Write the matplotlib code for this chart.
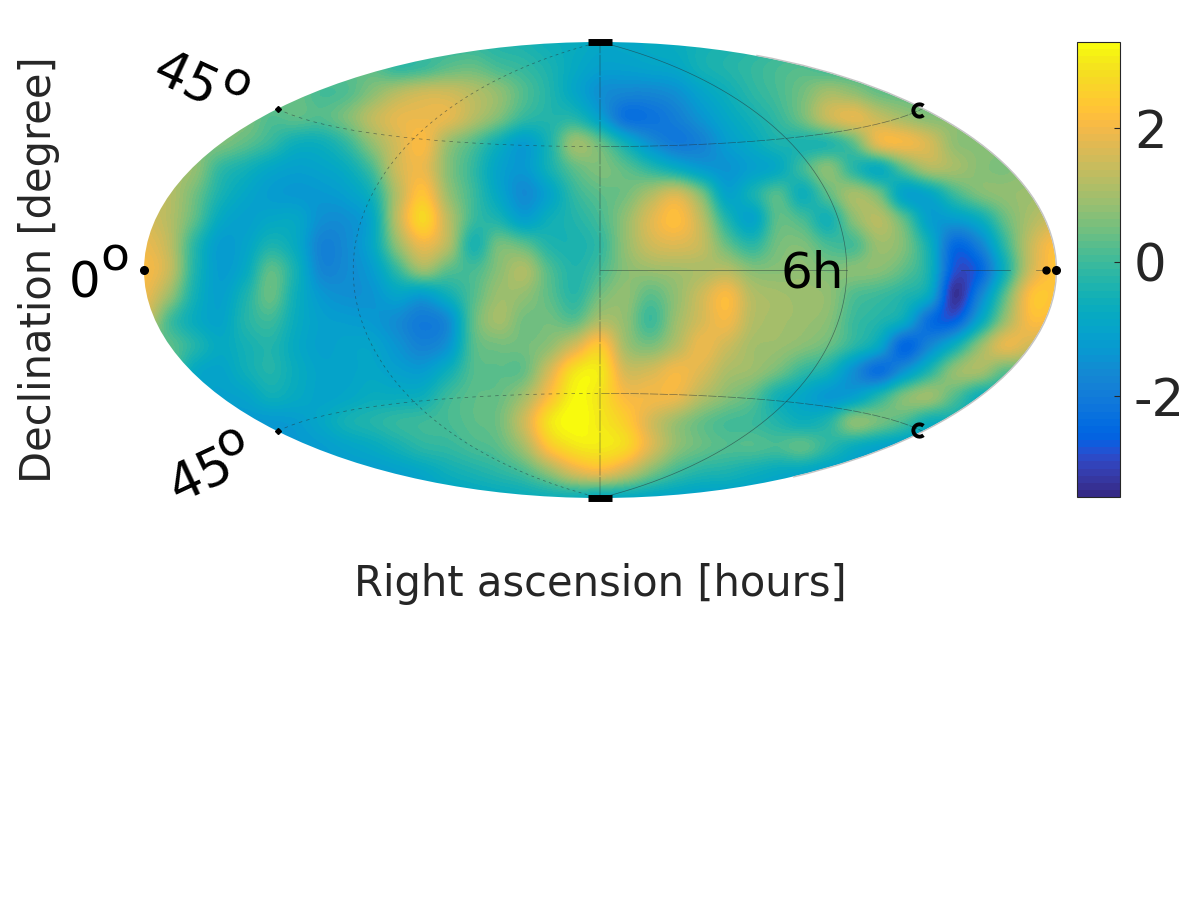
import matplotlib
matplotlib.use('Agg')
import matplotlib.pyplot as plt
import numpy as np
from matplotlib.colors import ListedColormap, Normalize
from matplotlib.cm import ScalarMappable
from matplotlib.patches import Ellipse, Arc
from matplotlib.path import Path

plt.rcParams['axes.unicode_minus'] = False

# map values, one list per row of the projected map (top to bottom)
row_01 = [.2] * 12 + [0, -.1, -.3, -.4, -.6, -.7, -.9, -.9, -.8, -.7, -.5, -.4, -.3, -.2] + [-.1] * 11
row_02 = [.3] * 10 + [-.1, 0, .3, .4, .1, -.1, -.4, -.8, -1.1, -1.1, -1, -.9, -.5, -.3, -.1, .1, .2] + [0] * 10
row_03 = [.4] * 7 + [.1, .2, .7, 1.2, 1.5, 1.5, 1.2, .8, .2, -.3, -.9, -1.5, -1.7, -1.7, -1.5, -1, -.6, -.2, .1, .5, 1, .8, .4] + [.3] * 7
row_04 = [.6] * 5 + [.2, .3, .2, .6, 1.3, 1.8, 1.9, 1.8, 1.2, .6, -.1, -.3, -.3, -1.1, -2.2, -2.2, -1.9, -1.4, -.9, -.5, -.1, .5, 1.4, 1.8, 1.4, 1, .7, .7] + [.7] * 4
row_05 = [.6, .6, .6, .6, .3, -.1, -.6, -.6, -.1, .8, 1.6, 2.1, .9, .2, -.6, -1.2, -.4, .9,
          .4, -.6, -1.5, -2, -1.8, -1.2, -.8, -.4, -.4, -.3, .3, 1.8, 2, 1.6, .8, .7, .7, .7, .7]
row_06 = [1, 1, .8, -.1, -.5, -.9, -1.1, -1, -.7, .1, 1.5, 1.9, .7, -.1, -1, -1.3, -.5, .3,
          .6, .3, -.2, -.7, -1.2, -1.4, -1.1, -.8, 0, .7, -.2, -.7, .3, 1.1, 1, .7, .6, .8, .8]
row_07 = [1.4, 1.2, .5, -.4, -.9, -1.2, -1.3, -1.3, -1.1, -.5, 1.2, 2.3, .9, 0, -.9, -1.6, -1, -.1,
          .3, .5, 1.1, 1.6, .6, -1, -.5, .2, -.6, .3, 1, .5, -1, -.9, 0, .6, .8, .9, 1]
row_08 = [1.6, 1.2, .3, -.8, -1.1, -.9, -.9, -1.5, -1.5, -.9, 1.3, 2.7, 1.3, 0, -.4, -1.1, -.6, -.3,
          .1, .8, 1.7, 2.2, 1.3, -.3, -1, .3, .1, -.5, .7, 1.2, .3, -1.1, -1.2, -.7, .4, 1.1, 1.5]
row_09 = [1.9, 1.3, -.2, -1.2, -1, -.4, -.8, -1.8, -1.6, -.9, .8, 1.9, 1.2, -.4, .5, .3, -.3, -.4,
          -.1, .8, 1.5, 1.7, 1.4, .4, -.2, .5, .6, .1, .1, .9, .6, -.6, -2.4, -1.8, -.1, 1.4, 2.2]
row_10 = [2.1, 1.4, -.3, -1.2, -.8, .3, -.5, -1.7, -1.6, -1.2, -.1, .9, .3, .1, .7, 1.1, .2, -.3,
          .1, .7, .9, 1, 1.1, 1.2, .7, .7, .8, .6, .7, .7, .3, -.5, -2.8, -2.5, -.5, 1.5, 2.3]
row_11 = [1.9, .9, -.5, -1.1, -.4, .4, -.6, -1.3, -1.5, -1.4, -1, -1.2, -.6, .2, .9, .8, .3, -.2,
          .5, .8, .3, .8, 1.5, 2.1, 1.2, 1, .9, .8, .2, 0, -.3, -.9, -3.3, -1.8, .3, 2.2, 2.3]
row_12 = [1.5, .1, -.7, -1, -.3, 0, -.7, -1.1, -1.2, -1.3, -1.6, -2, -1.6, .3, 1, .5, .5, .3,
          1.1, .8, 0, .9, 1.6, 2, 1.2, 1, .9, .7, 0, -.3, -.8, -2.3, -2.6, -.9, .9, 2.1, 2]
row_13 = [.3, .3, -.3, -.8, -.5, -.3, -.8, -1.1, -1, -1, -1.4, -1.8, -1.4, .2, .5, .5, .8, 1.6,
          2.4, 1, .6, 1.2, 1.9, 1.5, 1, .9, .7, .4, -.2, -.9, -2.5, -1.7, -.6, .8, 1.8, 1.5, 1]
row_14 = [.2, .2, -.8, -1, -.6, -.3, -.7, -1, -1, -.9, -1.1, -1.2, -.6, .2, .3, .4, 1.6, 2.9,
          3, 1.6, 1.6, 2, 1.7, 1.1, .9, .5, -.1, -.5, -1.5, -2.3, -1.4, -.3, .8, 1, .3, .3, .3]
row_15 = [-1, -1, -1, -1.1, -1, -.6, -.8, -1, -.9, -.7, -.7, -.6, 0, .3, .4, 1, 2.2, 3.2,
          2.9, 2.1, 2, 1.9, 1.2, .7, .3, -.5, -.9, -1.3, -1.1, -.3, .6, .9, .2, -.6, -.6, -.6, -.6]
row_16 = [-1.3] * 6 + [-1.2, -.9, -.5, -.3, -.1, 0, .1, .3, .5, 1.5, 2.9, 3.3,
                       3, 2.5, 1.6, .9, .4, .1, 0, -.3, -.6, -.3, .7, .5, .1, -.6] + [-.6] * 5
row_17 = [-1.3] * 7 + [-1.2, -1, -.8, -.5, -.2, -.1, .1, .3, 1, 2.3, 2.9,
                       3, 2.7, 1.7, .8, .4, .2, .2, .1, .3, -.2, -.7, -1, -1.2] + [-1.2] * 6
row_18 = [-1.2] * 10 + [-1.1, -.9, -.6, -.4, -.2, .1, .8, 1.6,
                        1.9, 1.4, .6, 0, -.3, -.4, -.6, -.8, -.9, -1.1] + [-1.1] * 9
row_19 = [-1.1] * 12 + [-1, -.9, -.8, -.7, -.6, -.6, -.8, -.8, -.9, -1] + [-1.1] * 15
sky = np.array([row_01, row_02, row_03, row_04, row_05, row_06, row_07, row_08, row_09, row_10,
                row_11, row_12, row_13, row_14, row_15, row_16, row_17, row_18, row_19])

vmin, vmax = -3.5, 3.29
cbar_ticks = [-2, 0, 2]

# MATLAB parula, 64 levels
parula = ListedColormap([
    (0.2081, 0.1663, 0.5292), (0.2116, 0.1898, 0.5777), (0.2123, 0.2138, 0.6270), (0.2081, 0.2386, 0.6771),
    (0.1959, 0.2645, 0.7279), (0.1707, 0.2919, 0.7792), (0.1253, 0.3242, 0.8303), (0.0591, 0.3598, 0.8683),
    (0.0117, 0.3875, 0.8820), (0.0060, 0.4086, 0.8828), (0.0165, 0.4266, 0.8786), (0.0329, 0.4430, 0.8720),
    (0.0498, 0.4586, 0.8641), (0.0629, 0.4737, 0.8554), (0.0723, 0.4887, 0.8467), (0.0779, 0.5040, 0.8384),
    (0.0793, 0.5200, 0.8312), (0.0749, 0.5375, 0.8263), (0.0641, 0.5570, 0.8240), (0.0488, 0.5772, 0.8228),
    (0.0343, 0.5966, 0.8199), (0.0265, 0.6137, 0.8135), (0.0239, 0.6287, 0.8038), (0.0231, 0.6418, 0.7913),
    (0.0228, 0.6535, 0.7768), (0.0267, 0.6642, 0.7607), (0.0384, 0.6743, 0.7436), (0.0590, 0.6838, 0.7254),
    (0.0843, 0.6928, 0.7062), (0.1133, 0.7015, 0.6859), (0.1453, 0.7098, 0.6646), (0.1801, 0.7177, 0.6424),
    (0.2178, 0.7250, 0.6193), (0.2586, 0.7317, 0.5954), (0.3022, 0.7376, 0.5712), (0.3482, 0.7424, 0.5473),
    (0.3953, 0.7459, 0.5244), (0.4420, 0.7481, 0.5033), (0.4871, 0.7491, 0.4840), (0.5300, 0.7491, 0.4661),
    (0.5709, 0.7485, 0.4494), (0.6099, 0.7473, 0.4337), (0.6473, 0.7456, 0.4188), (0.6834, 0.7435, 0.4044),
    (0.7184, 0.7411, 0.3905), (0.7525, 0.7384, 0.3768), (0.7858, 0.7356, 0.3633), (0.8185, 0.7327, 0.3498),
    (0.8507, 0.7299, 0.3360), (0.8824, 0.7274, 0.3217), (0.9139, 0.7258, 0.3063), (0.9450, 0.7261, 0.2886),
    (0.9739, 0.7314, 0.2666), (0.9938, 0.7455, 0.2403), (0.9990, 0.7653, 0.2164), (0.9955, 0.7861, 0.1967),
    (0.9880, 0.8066, 0.1794), (0.9789, 0.8271, 0.1633), (0.9697, 0.8481, 0.1475), (0.9626, 0.8705, 0.1309),
    (0.9589, 0.8949, 0.1132), (0.9598, 0.9218, 0.0948), (0.9661, 0.9514, 0.0755), (0.9763, 0.9831, 0.0538),
])

W, H = 1200.0, 900.0


def box(x0, y0, x1, y1):
    # pixel box (y down) to figure fractions
    return [x0 / W, 1 - y1 / H, (x1 - x0) / W, (y1 - y0) / H]


def px(x, y):
    return x / W, 1 - y / H


fig = plt.figure(figsize=(12, 9), dpi=100)
norm = Normalize(vmin, vmax)

# map, projected coordinates -1..1 in both directions
ax = fig.add_axes(box(144, 42, 1056, 498))
dx, dy = 1 / 36, 1 / 18
# catrom goes through the grid values, agg's bicubic blurs them
im = ax.imshow(sky, cmap=parula, norm=norm, interpolation='catrom', aspect='auto',
               extent=(-1 - dx, 1 + dx, -1 - dy, 1 + dy), origin='upper')
ax.set_xlim(-1, 1)
ax.set_ylim(-1, 1)
clip = Ellipse((0, 0), 2, 2, transform=ax.transData, facecolor='none', edgecolor='none')
ax.add_patch(clip)
im.set_clip_path(clip)
ax.add_patch(Arc((0, 0), 2.002, 2.004, theta1=-65, theta2=70, color='#c4c4c4', lw=1, clip_on=False))
ax.axis('off')

# graticule on a Hammer projection sitting exactly over the map
geo = fig.add_axes(box(144, 42, 1056, 498), projection='hammer')
geo.patch.set_alpha(0)
geo.grid(False)
geo.axis('off')
line_kw = dict(color='#26343a', lw=0.5, alpha=0.6, clip_on=False)
lat = np.radians(np.linspace(-89.9, 89.9, 200))
lon = np.radians(np.linspace(-179.9, 179.9, 300))
geo.plot(np.zeros_like(lat), lat, ls=(0, (30, 2)), **line_kw)
geo.plot(np.full_like(lat, np.pi / 2), lat, **line_kw)
geo.plot(np.full_like(lat, -np.pi / 2), lat, ls=(0, (4, 5)), **line_kw)
for lo, hi in [(0, 90), (136, 158), (170, 175)]:
    geo.plot(np.radians([lo, hi]), [0, 0], **line_kw)
for d in (45, -45):
    geo.plot(lon[lon >= 0], np.full_like(lon[lon >= 0], np.radians(d)), ls=(0, (12, 2)), **line_kw)
    geo.plot(lon[lon < 0], np.full_like(lon[lon < 0], np.radians(d)), ls=(0, (5, 6)), **line_kw)

# black tick blobs where the graticule meets the edge
hook = Path.arc(50, 310)
geo.plot([0, 0], np.radians([89.9, -89.9]), ls='', marker='_', ms=17, mew=5, color='k', clip_on=False)
geo.plot([-np.pi + 0.001], [0], ls='', marker='o', ms=5.5, color='k', clip_on=False)
geo.plot([np.radians(175)], [0], ls='', marker='o', ms=5, color='k', clip_on=False)
geo.plot([np.pi - 0.001], [0], ls='', marker='o', ms=5.5, color='k', clip_on=False)
geo.plot([-np.pi + 0.001] * 2, np.radians([45, -45]), ls='', marker='D', ms=3, color='k', clip_on=False)
geo.plot([np.radians(177)] * 2, np.radians([45, -45]), ls='', marker=hook, ms=9, mew=2.8,
         mfc='none', color='k', clip_on=False)

# colorbar
cax = fig.add_axes(box(1077, 41.5, 1120, 497))
cb = fig.colorbar(ScalarMappable(norm=norm, cmap=parula), cax=cax, ticks=cbar_ticks)
cb.ax.tick_params(direction='in', length=4, width=0.8, color='#262626', labelcolor='#262626',
                  labelsize=37, pad=10)
cb.outline.set_edgecolor('#262626')
cb.outline.set_linewidth(0.8)

# texts
grey = '#262626'
fig.text(*px(600, 584), 'Right ascension [hours]', fontsize=30, color=grey, ha='center', va='center')
fig.text(*px(39, 270), 'Declination [degree]', fontsize=30, color=grey, rotation=90, ha='center', va='center')
fig.text(*px(812, 273), '6h', fontsize=36, color='k', ha='center', va='center')
fig.text(*px(85, 283), '0', fontsize=36, color='k', ha='center', va='center')
fig.text(*px(115, 258), 'o', fontsize=34, color='k', ha='center', va='center')
fig.text(*px(185, 81), '45', fontsize=37, color='k', rotation=-25, ha='center', va='center')
fig.text(*px(236, 83), 'o', fontsize=34, color='k', rotation=-25, ha='center', va='center')
fig.text(*px(201, 476), '45', fontsize=37, color='k', rotation=25, ha='center', va='center')
fig.text(*px(231, 442), 'o', fontsize=34, color='k', rotation=25, ha='center', va='center')

fig.savefig('out.png', dpi=100)
